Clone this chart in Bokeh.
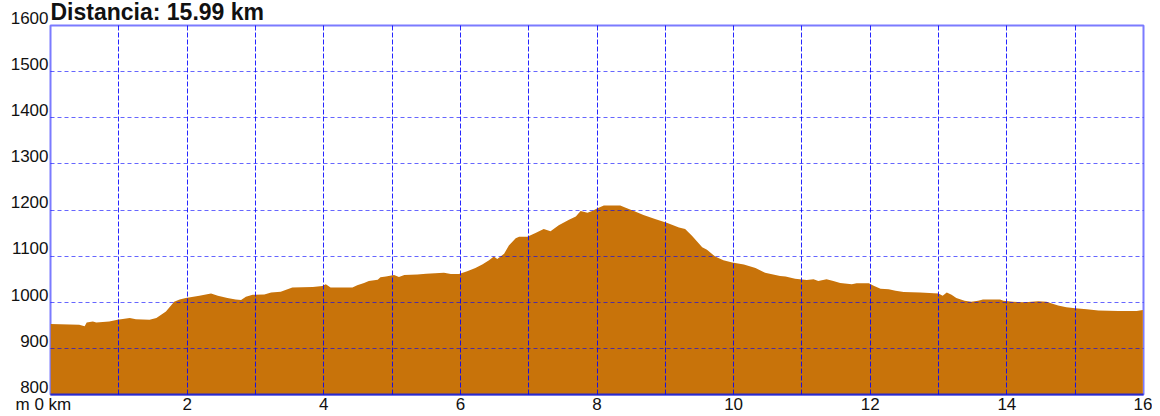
from bokeh.plotting import figure
from bokeh.models import Range1d, FixedTicker
from bokeh.embed import file_html
from bokeh.resources import INLINE

km = [0.00, 0.42, 0.50, 0.53, 0.62, 0.67, 0.86, 0.98, 1.16, 1.25, 1.45, 1.55, 1.69, 1.81, 1.89,
      1.98, 2.18, 2.35, 2.45, 2.59, 2.71, 2.79, 2.86, 2.96, 3.13, 3.23, 3.37, 3.47, 3.54, 3.84,
      3.98, 4.03, 4.10, 4.42, 4.49, 4.59, 4.66, 4.79, 4.83, 4.91, 5.03, 5.10, 5.18, 5.37, 5.50,
      5.76, 5.86, 5.98, 6.10, 6.22, 6.32, 6.42, 6.49, 6.54, 6.64, 6.71, 6.81, 6.86, 6.98, 7.10,
      7.22, 7.32, 7.44, 7.59, 7.69, 7.76, 7.86, 7.93, 8.00, 8.10, 8.17, 8.34, 8.42, 8.54, 8.68,
      8.86, 9.03, 9.20, 9.29, 9.39, 9.54, 9.61, 9.73, 9.85, 9.98, 10.15, 10.32, 10.46, 10.68, 10.76,
      10.90, 11.07, 11.17, 11.24, 11.36, 11.46, 11.56, 11.73, 11.80, 11.98, 12.05, 12.15, 12.27, 12.37, 12.49,
      12.73, 13.00, 13.06, 13.12, 13.19, 13.26, 13.38, 13.48, 13.58, 13.65, 13.90, 13.95, 14.09, 14.26, 14.46,
      14.58, 14.68, 14.75, 14.87, 15.00, 15.17, 15.34, 15.63, 15.90, 15.99]
elev = [953, 951, 948, 956, 958, 956, 958, 962, 966, 963, 962, 966, 980, 1001, 1006,
        1009, 1014, 1019, 1014, 1009, 1006, 1005, 1012, 1016, 1017, 1021, 1023, 1028, 1032, 1033,
        1035, 1039, 1032, 1032, 1037, 1042, 1046, 1049, 1054, 1056, 1059, 1055, 1059, 1060, 1062,
        1064, 1061, 1061, 1067, 1074, 1082, 1091, 1099, 1094, 1105, 1123, 1139, 1142, 1142, 1150,
        1159, 1154, 1167, 1179, 1186, 1198, 1194, 1198, 1203, 1210, 1210, 1210, 1205, 1198, 1189,
        1180, 1172, 1162, 1159, 1144, 1119, 1114, 1099, 1091, 1086, 1082, 1074, 1064, 1057, 1056,
        1051, 1048, 1050, 1046, 1050, 1046, 1042, 1039, 1041, 1041, 1036, 1029, 1028, 1025, 1022,
        1021, 1019, 1014, 1021, 1016, 1009, 1003, 1001, 1003, 1006, 1006, 1003, 1001, 1000, 1002,
        1001, 996, 993, 989, 987, 985, 982, 981, 981, 983]

x_label_ticks = [0, 2, 4, 6, 8, 10, 12, 14, 16]
x_grid_ticks = list(range(0, 17))
y_ticks = [800, 900, 1000, 1100, 1200, 1300, 1400, 1500, 1600]
title_text = "Distancia: 15.99 km"

font = "Liberation Sans"

p = figure(width=1152, height=416, x_range=Range1d(0, 16), y_range=Range1d(800, 1600),
           output_backend="svg", toolbar_location=None,
           min_border_left=50, min_border_top=24, min_border_bottom=22, min_border_right=9,
           background_fill_color="white", border_fill_color="white")

p.title.text = title_text
p.title.text_font = font
p.title.text_font_size = "23px"
p.title.text_font_style = "bold"
p.title.text_color = "#111111"
p.title.align = "left"
p.title.standoff = -3
p.title.offset = 0
p.title.vertical_align = "top"

p.varea(x=km, y1=[800] * len(km), y2=elev, fill_color="#C8730A", fill_alpha=1.0)

# x axis
p.xaxis.ticker = FixedTicker(ticks=x_label_ticks)
p.xaxis.major_label_overrides = {0: "m 0 km\u00a0\u00a0\u00a0"}
p.xaxis.major_label_standoff = 0
p.xaxis.axis_line_color = "#2a2acc"
p.xaxis.axis_line_width = 2

# y axis: label baseline sits on the grid line
p.yaxis.ticker = FixedTicker(ticks=y_ticks)
p.yaxis.major_label_overrides = {t: f"{t}\n" for t in y_ticks}
p.yaxis.major_label_text_line_height = 0.76
p.yaxis.major_label_standoff = 2
p.yaxis.axis_line_color = None

for ax in (p.xaxis, p.yaxis):
    ax.major_tick_line_color = None
    ax.minor_tick_line_color = None
    ax.major_tick_out = 0
    ax.major_tick_in = 0
    ax.major_label_text_font = font
    ax.major_label_text_font_size = "17px"
    ax.major_label_text_color = "#111111"

p.outline_line_color = "#7b7bff"
p.outline_line_width = 2

# grid above the fill
p.xgrid.ticker = FixedTicker(ticks=x_grid_ticks)
p.ygrid.ticker = FixedTicker(ticks=y_ticks)
p.xgrid.grid_line_color = "#0000ff"
p.xgrid.grid_line_alpha = 0.85
p.xgrid.grid_line_dash = "5 2"
p.ygrid.grid_line_color = "#0000ff"
p.ygrid.grid_line_alpha = 0.6
p.ygrid.grid_line_dash = "4 3"
p.xgrid.level = "overlay"
p.ygrid.level = "overlay"

open("out.html", "w").write(file_html(p, INLINE))
